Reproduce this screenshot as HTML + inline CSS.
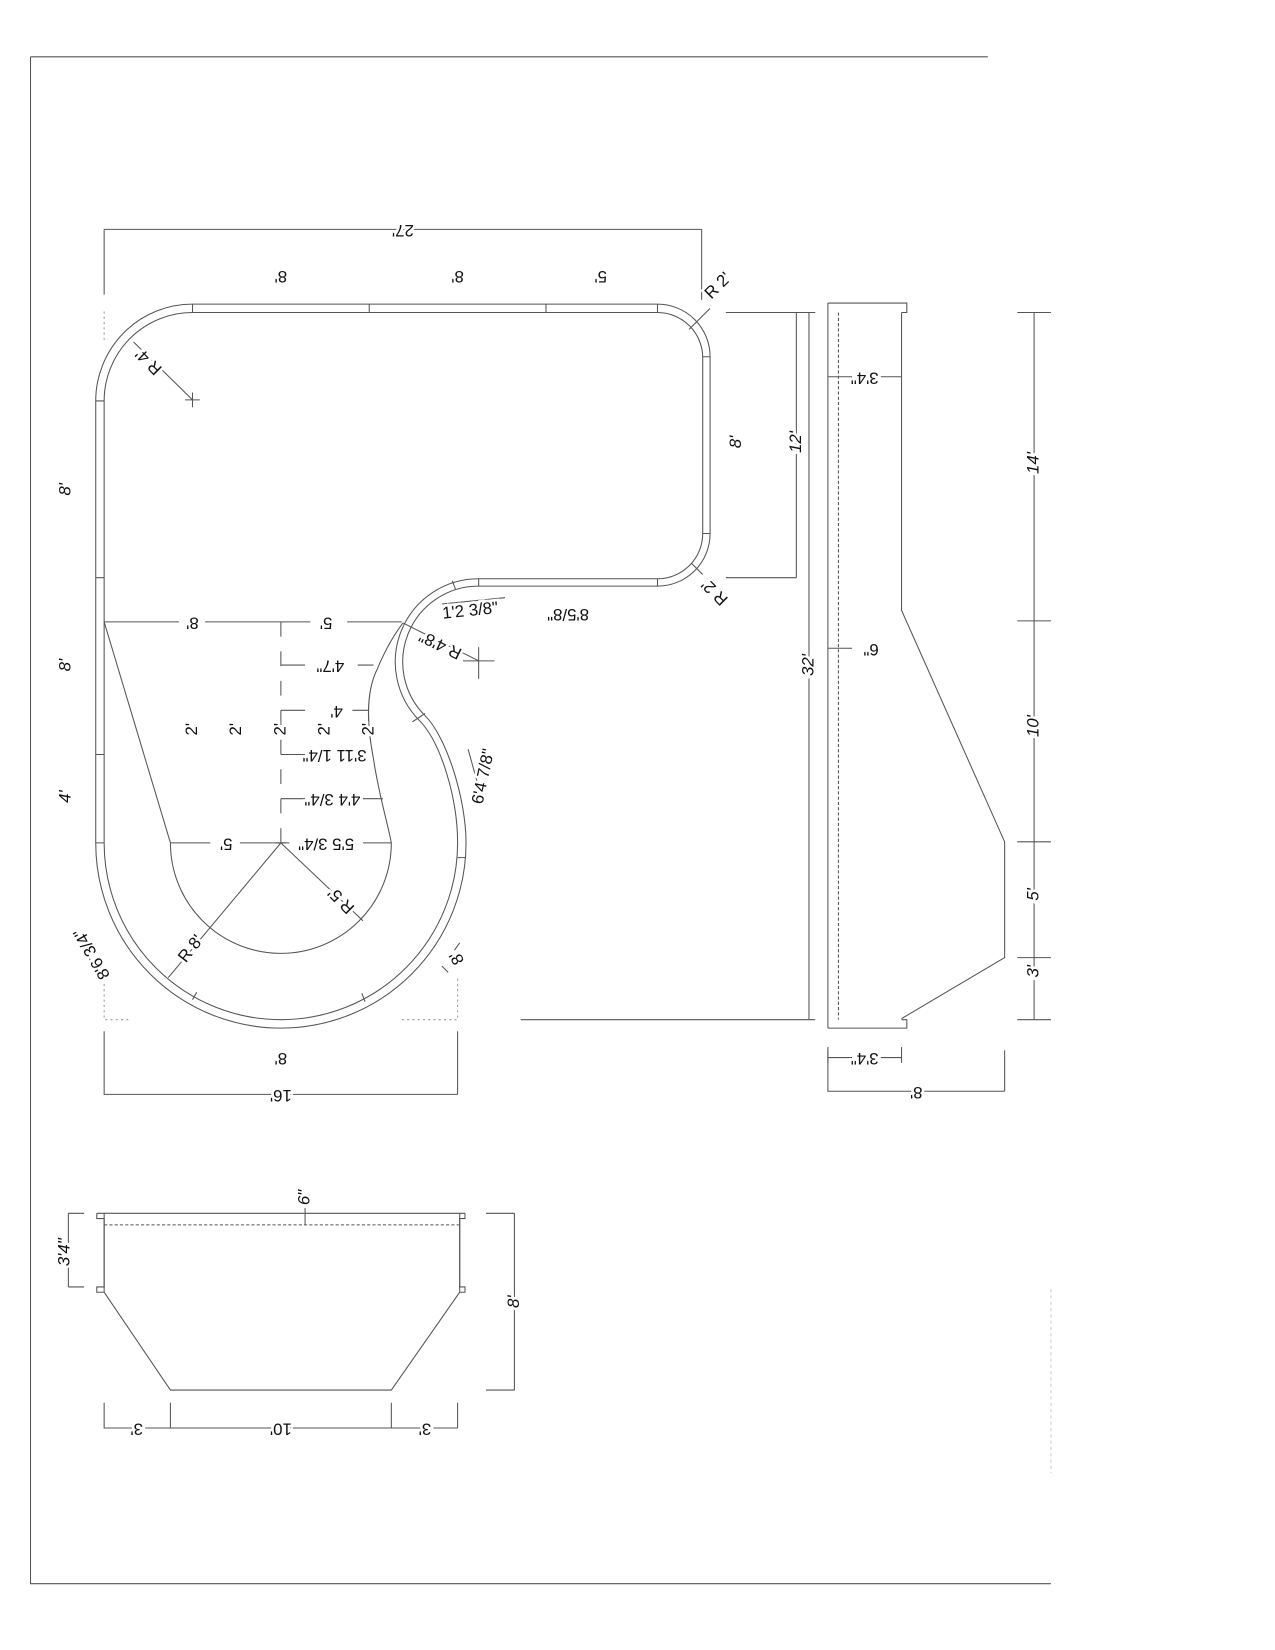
<!DOCTYPE html>
<html><head><meta charset="utf-8"><style>
html,body{margin:0;padding:0;background:#fff;}
svg{display:block;}
text{font-family:"Liberation Sans",Arial,sans-serif;font-size:16px;fill:#111;paint-order:stroke;stroke:#fff;stroke-width:5px;}
.it{font-style:italic;}
</style></head><body>
<svg width="1275" height="1650" viewBox="0 0 1212 1568" preserveAspectRatio="none" xmlns="http://www.w3.org/2000/svg">
<g fill="none" stroke="#555" stroke-width="1">
<path d="M29 54H939M29 54V1505H999"/>
<path d="M999 1225V1400" stroke="#ccc" stroke-dasharray="3 3"/>

<path d="M183 289H625A50 50 0 0 1 675 339V507A50 50 0 0 1 625 557H455A72 72 0 0 0 404 680C425 701 443 760 443 801A176 176 0 0 1 91 801V381A92 92 0 0 1 183 289Z"/>
<path d="M183 297H625A43 43 0 0 1 668 340V507A43 43 0 0 1 625 550H455A79 79 0 0 0 399 685C420 707 435 760 435 801A168 168 0 0 1 99 801V381A84 84 0 0 1 183 297Z"/>
<path d="M183 289V297M351 289V297M519 289V297M625 289V297M668 339H675M668 507H675M625 550V557M455 550V557M430 552L433 560M392 686L404 678M91 381H99M91 549H99M91 717H99M91 801H99M435 815H443M347 952L344 944M183 950L187 943M426 924L420 918"/>

<path d="M99 591H170M195 591H295M330 591H382"/>
<path d="M99 591L162 801A105 105 0 0 0 372 801C368 780 360 755 355 721C350 695 346 660 359 635C366 618 374 604 383 592"/>
<path d="M162 801H200M228 801H267M267 801H275M345 801H372"/>
<path d="M267 591V801" stroke-dasharray="14 14"/>
<path d="M267 632H290M340 632H355M267 675H290M335 675H350M267 717H290M267 759H290M345 759H364M262 801H272"/>
<path d="M267 801L160 929M267 801L345 875"/>
<path d="M127 325L183 380M176 380H190M183 373V387"/>
<path d="M383 592L455 628M440 628H470M455 615V645"/>
<path d="M655 313L675 293M657 535L668 546"/>
<path d="M420 574L480 568M70 885L96 930M432 903L437 896M445 712L459 763"/>
<path d="M99 935V969H122M382 969H435V930M99 296V325" stroke="#999" stroke-dasharray="2 3"/>

<path d="M99 218H667M99 218V280M667 218V285"/>
<path d="M99 980V1040H435M435 980V1040"/>
<path d="M690 297H775M690 549H757M757 297V549M769 297V969M495 969H775"/>

<path d="M787 288V977M787 288H862V297H857M787 977H862V969H857"/>
<path d="M797 297V969" stroke-dasharray="3 2"/>
<path d="M857 297V580L955 800V910L857 968"/>
<path d="M787 358H810M837 358H857M787 616H810"/>
<path d="M983 297V969M967 297H999M967 590H999M967 800H999M967 910H999M967 969H999"/>
<path d="M787 995V1010M857 995V1010M787 1005H810M837 1005H857"/>
<path d="M787 998V1037H955M955 998V1037"/>

<path d="M92 1153H442M92 1153V1158H99V1223H92V1228H99M442 1153V1158H437V1223H442V1228H437"/>
<path d="M99 1153V1228M437 1153V1228"/>
<path d="M99 1164H437" stroke-dasharray="3 2"/>
<path d="M290 1148V1164"/>
<path d="M99 1228L162 1321H372L437 1228"/>
<path d="M65 1153V1223M65 1153H80M65 1223H80"/>
<path d="M489 1153V1321M462 1153H489M462 1321H489"/>
<path d="M99 1333V1357H435M435 1333V1357M162 1333V1357M372 1333V1357"/>
</g>

<g text-anchor="middle" dominant-baseline="middle">
<text transform="translate(383,218) rotate(180)">27'</text>
<text transform="translate(267,262) rotate(180)">8'</text>
<text transform="translate(435,262) rotate(180)">8'</text>
<text transform="translate(571,262) rotate(180)">5'</text>
<text transform="translate(683,272) rotate(-45)">R 2'</text>
<text transform="translate(680,562) rotate(225)">R 2'</text>
<text transform="translate(142,343) rotate(225)">R 4'</text>
<text class="it" transform="translate(63,465) rotate(-90)">8'</text>
<text class="it" transform="translate(63,632) rotate(-90)">8'</text>
<text class="it" transform="translate(63,757) rotate(-90)">4'</text>
<text class="it" transform="translate(700,420) rotate(-90)">8'</text>
<text class="it" transform="translate(757,420) rotate(-90)">12'</text>
<text class="it" transform="translate(769,632) rotate(-90)">32'</text>
<text transform="translate(183,591) rotate(180)">8'</text>
<text transform="translate(310,591) rotate(180)">5'</text>
<text transform="translate(314,632) rotate(180)">4'7"</text>
<text transform="translate(320,675) rotate(180)">4'</text>
<text transform="translate(318,717) rotate(180)">3'11 1/4"</text>
<text transform="translate(316,759) rotate(180)">4'4 3/4"</text>
<text transform="translate(215,801) rotate(180)">5'</text>
<text transform="translate(310,801) rotate(180)">5'5 3/4"</text>
<text transform="translate(183,693) rotate(-90)">2'</text>
<text transform="translate(225,693) rotate(-90)">2'</text>
<text transform="translate(267,693) rotate(-90)">2'</text>
<text transform="translate(309,693) rotate(-90)">2'</text>
<text transform="translate(351,693) rotate(-90)">2'</text>
<text transform="translate(325,855) rotate(225)">R 5'</text>
<text transform="translate(182,902) rotate(-52)">R 8'</text>
<text transform="translate(447,581) rotate(-6)">1'2 3/8"</text>
<text transform="translate(540,583) rotate(180)">8'5/8"</text>
<text transform="translate(419,612) rotate(206)">R 4'8"</text>
<text transform="translate(460,738) rotate(-78)">6'4 7/8"</text>
<text transform="translate(88,906) rotate(240)">8'6 3/4"</text>
<text transform="translate(435,910) rotate(240)">8'</text>
<text transform="translate(267,1005) rotate(180)">8'</text>
<text transform="translate(267,1040) rotate(180)">16'</text>
<text transform="translate(822,358) rotate(180)">3'4"</text>
<text transform="translate(828,616) rotate(180)">6"</text>
<text transform="translate(822,1005) rotate(180)">3'4"</text>
<text transform="translate(871,1037) rotate(180)">8'</text>
<text class="it" transform="translate(983,440) rotate(-90)">14'</text>
<text class="it" transform="translate(983,690) rotate(-90)">10'</text>
<text class="it" transform="translate(983,850) rotate(-90)">5'</text>
<text class="it" transform="translate(983,923) rotate(-90)">3'</text>
<text class="it" transform="translate(290,1138) rotate(-90)">6"</text>
<text class="it" transform="translate(62,1190) rotate(-90)">3'4"</text>
<text class="it" transform="translate(489,1237) rotate(-90)">8'</text>
<text transform="translate(130,1357) rotate(180)">3'</text>
<text transform="translate(267,1357) rotate(180)">10'</text>
<text transform="translate(404,1357) rotate(180)">3'</text>
</g>
</svg>
</body></html>
